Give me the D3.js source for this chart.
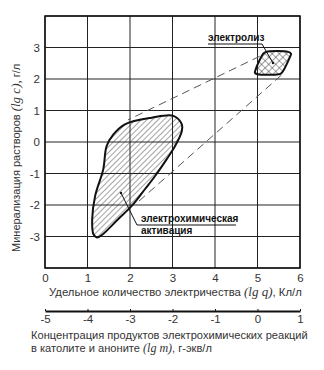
<!doctype html>
<html>
  <head>
    <script src="https://cdnjs.cloudflare.com/ajax/libs/d3/7.8.5/d3.min.js"></script>
  <style>
    body { margin: 0; background: #fff; overflow: hidden; }
    #wrap { position: relative; width: 324px; height: 370px; }
    #wrap svg { position: absolute; left: 0; top: 0; display: block; }
    text { font-family: "Liberation Sans", Arial, sans-serif; fill: #333; }
    .lab { font-weight: bold; fill: #111; font-size: 10px; }
    .it { font-family: "Liberation Serif", serif; font-style: italic; }
  </style>
  </head>
  <body>
    <div id="wrap">
      <svg id="gridsvg" width="324" height="370"></svg>
      <svg id="chart" width="324" height="370"></svg>
    </div>
    <script>
      // axis ranges / ticks
      var qTicks = [0, 1, 2, 3, 4, 5, 6];
      var cTicks = [-3, -2, -1, 0, 1, 2, 3];
      var mTicks = [-5, -4, -3, -2, -1, 0, 1];
      var qGrid = [0, 1, 2, 3, 4, 5, 6];
      var cGrid = [-4, -3, -2, -1, 0, 1, 2, 3, 4];

      // outlines of the two regions, [lg q, lg c]
      var activation = [
        [3.22, 0.56], [3.02, 0.83], [2.51, 0.77], [1.88, 0.56], [1.61, 0.24],
        [1.45, -0.13], [1.37, -0.87], [1.18, -1.71], [1.11, -2.45], [1.14, -2.93],
        [1.22, -3.03], [1.33, -2.96], [1.72, -2.45], [2.04, -2.03], [2.35, -1.50],
        [2.59, -1.08], [2.86, -0.55], [3.06, -0.13], [3.22, 0.35]
      ];
      var electrolysis = [
        [5.20, 2.86], [5.72, 2.86], [5.79, 2.80], [5.77, 2.72], [5.56, 2.18],
        [5.50, 2.15], [5.00, 2.15], [4.94, 2.19], [4.95, 2.28], [5.14, 2.81]
      ];
      // dashed connecting lines
      var dashes = [
        [[5.05, 2.72], [1.95, 0.70]],
        [[5.56, 2.12], [2.15, -1.95]]
      ];

      var x = d3.scaleLinear().domain([0, 6]).range([45, 300]);
      var y = d3.scaleLinear().domain([-4, 4]).range([268, 16]);
      var xm = d3.scaleLinear().domain([-5, 1]).range([45, 300]);

      // grid and frame in their own svg underneath
      var gsvg = d3.select("#gridsvg");
      var grid = gsvg.append("g").attr("class", "grid");
      grid.selectAll("line.v").data(qGrid).join("line").attr("class", "v")
        .attr("x1", d => x(d)).attr("x2", d => x(d))
        .attr("y1", y(4)).attr("y2", y(-4))
        .style("stroke", "#222").style("stroke-width", "1px");
      grid.selectAll("line.h").data(cGrid).join("line").attr("class", "h")
        .attr("x1", x(0)).attr("x2", x(6))
        .attr("y1", d => y(d)).attr("y2", d => y(d))
        .style("stroke", "#222").style("stroke-width", "1px");
      gsvg.append("rect").attr("x", x(0)).attr("y", y(4))
        .attr("width", x(6) - x(0)).attr("height", y(-4) - y(4))
        .style("fill", "none").style("stroke", "#111").style("stroke-width", "1.5px");

      var svg = d3.select("#chart");
      var defs = svg.append("defs");
      var p1 = defs.append("pattern").attr("id", "hatch")
        .attr("patternUnits", "userSpaceOnUse").attr("width", 4).attr("height", 4)
        .attr("patternTransform", "rotate(45)");
      p1.append("line").attr("x1", 0).attr("y1", 0).attr("x2", 0).attr("y2", 4)
        .attr("stroke", "#333").attr("stroke-width", 0.9);
      var p2 = defs.append("pattern").attr("id", "cross")
        .attr("patternUnits", "userSpaceOnUse").attr("width", 5).attr("height", 5)
        .attr("patternTransform", "rotate(45)");
      p2.append("line").attr("x1", 0).attr("y1", 0).attr("x2", 0).attr("y2", 5)
        .attr("stroke", "#333").attr("stroke-width", 0.9);
      p2.append("line").attr("x1", 0).attr("y1", 0).attr("x2", 5).attr("y2", 0)
        .attr("stroke", "#333").attr("stroke-width", 0.9);

      // dashed lines
      svg.selectAll("line.dash").data(dashes).join("line").attr("class", "dash")
        .attr("x1", d => x(d[0][0])).attr("y1", d => y(d[0][1]))
        .attr("x2", d => x(d[1][0])).attr("y2", d => y(d[1][1]))
        .style("stroke", "#555").style("stroke-width", "1px")
        .style("stroke-dasharray", "8,5");

      var outline = d3.line().x(d => x(d[0])).y(d => y(d[1])).curve(d3.curveCatmullRomClosed.alpha(0.5));
      svg.append("path").datum(activation).attr("d", outline)
        .attr("fill", "url(#hatch)").attr("stroke", "#111").attr("stroke-width", 2);
      svg.append("path").datum(electrolysis).attr("d", outline)
        .attr("fill", "url(#cross)").attr("stroke", "#111").attr("stroke-width", 2);

      // axes
      var fmt = d => d < 0 ? "-" + Math.abs(d) : d;
      svg.append("g").attr("transform", "translate(0," + (y(-4) + 2) + ")")
        .call(d3.axisBottom(x).tickValues(qTicks).tickSize(0).tickPadding(4).tickFormat(fmt))
        .call(g => g.select(".domain").remove());
      svg.append("g").attr("transform", "translate(" + (x(0) - 2) + ",0)")
        .call(d3.axisLeft(y).tickValues(cTicks).tickSize(0).tickPadding(3).tickFormat(fmt))
        .call(g => g.select(".domain").remove());
      var am = svg.append("g").attr("transform", "translate(0,311)")
        .call(d3.axisBottom(xm).tickValues(mTicks).tickSize(-2).tickSizeOuter(0).tickPadding(4).tickFormat(fmt));
      svg.selectAll(".tick text").attr("font-size", 11.5).attr("fill", "#333");
      am.select(".domain").style("stroke", "#111").style("stroke-width", "2px");
      am.selectAll(".tick line").style("stroke", "#111");

      // axis titles
      var tx = svg.append("text").attr("x", 49).attr("y", 296).attr("font-size", 11.3);
      tx.append("tspan").text("Удельное количество электричества ");
      tx.append("tspan").attr("class", "it").attr("font-size", 13).text("(lg q)");
      tx.append("tspan").text(", Кл/л");

      svg.append("text").attr("x", 31).attr("y", 339).attr("font-size", 11.1)
        .text("Концентрация продуктов электрохимических реакций");
      var t2 = svg.append("text").attr("x", 31).attr("y", 352).attr("font-size", 11.1);
      t2.append("tspan").text("в католите и аноните  ");
      t2.append("tspan").attr("class", "it").attr("font-size", 12).text("(lg m)");
      t2.append("tspan").text(", г-экв/л");

      var ty = svg.append("text").attr("transform", "translate(20,252) rotate(-90)").attr("font-size", 11);
      ty.append("tspan").text("Минерализация растворов  ");
      ty.append("tspan").attr("class", "it").attr("font-size", 13).text("(lg c),");
      ty.append("tspan").text("   г/л");

      // region labels with leaders
      svg.append("text").attr("class", "lab").attr("x", 208).attr("y", 41).text("электролиз");
      svg.append("path").attr("d", "M208,44H262L273,63")
        .style("fill", "none").style("stroke", "#111").style("stroke-width", "1px");
      svg.append("circle").attr("cx", 273).attr("cy", 63).attr("r", 1.2).style("fill", "#111");

      svg.append("text").attr("class", "lab").attr("x", 141).attr("y", 222).text("электрохимическая");
      svg.append("text").attr("class", "lab").attr("x", 141).attr("y", 234).text("активация");
      svg.append("path").attr("d", "M121,193L137,225H236")
        .style("fill", "none").style("stroke", "#111").style("stroke-width", "1px");
      svg.append("circle").attr("cx", 121).attr("cy", 193).attr("r", 1.2).style("fill", "#111");
    </script>
  </body>
</html>
